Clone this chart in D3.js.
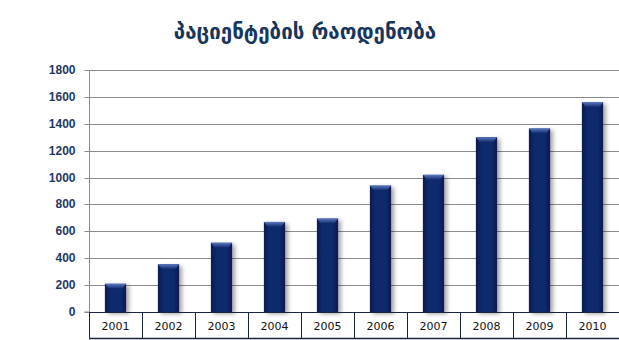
<!DOCTYPE html>
<html>
<head>
<meta charset="utf-8">
<script src="https://cdn.jsdelivr.net/npm/d3@7"></script>
<style>
  body { margin: 0; background: #fff; }
  svg { display: block; }
</style>
</head>
<body>
<div id="chart"></div>
<script>
const years = ['2001', '2002', '2003', '2004', '2005', '2006', '2007', '2008', '2009', '2010'];
const patients = [210, 355, 515, 670, 695, 940, 1020, 1300, 1365, 1560];
const yTicks = [0, 200, 400, 600, 800, 1000, 1200, 1400, 1600, 1800];
const chartTitle = 'პაციენტების რაოდენობა';

const svgWidth = 619;
const svgHeight = 340;

const margin = { top: 70, right: 0, bottom: 2, left: 89 };
const width = svgWidth - margin.left - margin.right;
const height = svgHeight - margin.top - margin.bottom;

const svg = d3.select('#chart')
    .append('svg')
    .attr('width', svgWidth)
    .attr('height', svgHeight);

// gradients + shadow for the bevelled bars
const defs = svg.append('defs');
const grad = defs.append('linearGradient')
    .attr('id', 'barGrad')
    .attr('x1', '0').attr('x2', '1').attr('y1', '0').attr('y2', '0');
grad.append('stop').attr('offset', '0%').attr('stop-color', '#0a1b4e');
grad.append('stop').attr('offset', '25%').attr('stop-color', '#10296c');
grad.append('stop').attr('offset', '75%').attr('stop-color', '#10296c');
grad.append('stop').attr('offset', '100%').attr('stop-color', '#0a1b4e');

const topGrad = defs.append('linearGradient')
    .attr('id', 'topGrad')
    .attr('x1', '0').attr('x2', '0').attr('y1', '0').attr('y2', '1');
topGrad.append('stop').attr('offset', '0%').attr('stop-color', '#5a78c0');
topGrad.append('stop').attr('offset', '100%').attr('stop-color', '#10296c');

const shadow = defs.append('filter')
    .attr('id', 'shadow')
    .attr('x', '-30%').attr('y', '-10%').attr('width', '180%').attr('height', '130%');
shadow.append('feDropShadow')
    .attr('dx', 3).attr('dy', 2)
    .attr('stdDeviation', 2)
    .attr('flood-color', '#000')
    .attr('flood-opacity', 0.35);

const chartGroup = svg.append('g')
    .attr('transform', `translate(${margin.left}, ${margin.top})`);

// scales
const xBandScale = d3.scaleBand()
    .domain(years)
    .range([0, width])
    .paddingInner(0.6)
    .paddingOuter(0.3);

const yLinearScale = d3.scaleLinear()
    .domain([0, 1800])
    .range([height - 26, 0]);

const zeroY = yLinearScale(0);

// gridlines
chartGroup.append('g')
    .selectAll('line')
    .data(yTicks.slice(1))
    .enter()
    .append('line')
    .attr('x1', 0)
    .attr('x2', width)
    .attr('y1', d => Math.round(yLinearScale(d)) + 0.5)
    .attr('y2', d => Math.round(yLinearScale(d)) + 0.5)
    .attr('stroke', '#8c8c8c')
    .attr('stroke-width', 1);

// left axis
const leftAxis = d3.axisLeft(yLinearScale)
    .tickValues(yTicks)
    .tickFormat(d3.format('d'))
    .tickSize(5)
    .tickPadding(9);

const yAxis = chartGroup.append('g')
    .attr('transform', 'translate(0.5, 0)')
    .call(leftAxis);
yAxis.select('.domain').attr('stroke', '#8c8c8c').attr('d', `M-5,${zeroY}H0V0`);
yAxis.selectAll('.tick line').attr('stroke', '#8c8c8c');
yAxis.selectAll('.tick').attr('transform', d => `translate(0, ${Math.round(yLinearScale(d)) + 0.5})`);
yAxis.selectAll('text')
    .attr('fill', '#1f3864')
    .style('font-family', '"Liberation Sans", Arial, sans-serif')
    .style('font-weight', 'bold')
    .style('font-size', '12px');

// bars
const barGroups = chartGroup.selectAll('.bar')
    .data(patients)
    .enter()
    .append('g')
    .classed('bar', true)
    .attr('filter', 'url(#shadow)');

barGroups.append('rect')
    .attr('x', (d, i) => xBandScale(years[i]))
    .attr('y', d => yLinearScale(d))
    .attr('width', xBandScale.bandwidth())
    .attr('height', d => zeroY - yLinearScale(d))
    .attr('fill', 'url(#barGrad)');

barGroups.append('path')
    .attr('d', (d, i) => {
        const x0 = xBandScale(years[i]);
        const w = xBandScale.bandwidth();
        const y0 = yLinearScale(d);
        return `M${x0},${y0}H${x0 + w}L${x0 + w - 4},${y0 + 5}H${x0 + 4}Z`;
    })
    .attr('fill', 'url(#topGrad)');

// category table under the bars
const catGroup = chartGroup.append('g')
    .attr('transform', `translate(0, ${zeroY})`);

const step = width / years.length;

catGroup.append('line')
    .attr('x1', 0).attr('x2', width)
    .attr('y1', 0.5).attr('y2', 0.5)
    .attr('stroke', '#1a2440');

catGroup.append('line')
    .attr('x1', 0).attr('x2', width)
    .attr('y1', 26.5).attr('y2', 26.5)
    .attr('stroke', '#1a2440')
    .attr('stroke-width', 1.5);

catGroup.selectAll('.divider')
    .data(d3.range(years.length))
    .enter()
    .append('line')
    .classed('divider', true)
    .attr('x1', i => Math.round(i * step) + 0.5)
    .attr('x2', i => Math.round(i * step) + 0.5)
    .attr('y1', 0)
    .attr('y2', 26)
    .attr('stroke', '#1a2440');

catGroup.selectAll('.yearLabel')
    .data(years)
    .enter()
    .append('text')
    .classed('yearLabel', true)
    .attr('x', d => xBandScale(d) + xBandScale.bandwidth() / 2)
    .attr('y', 18)
    .attr('text-anchor', 'middle')
    .attr('fill', '#111')
    .style('font-family', '"DejaVu Sans", Verdana, sans-serif')
    .style('font-size', '11px')
    .text(d => d);

// title
svg.append('text')
    .attr('x', 305)
    .attr('y', 39)
    .attr('text-anchor', 'middle')
    .attr('fill', '#17365d')
    .style('font-family', '"DejaVu Sans", sans-serif')
    .style('font-weight', 'bold')
    .style('font-size', '20.5px')
    .text(chartTitle);
</script>
</body>
</html>
